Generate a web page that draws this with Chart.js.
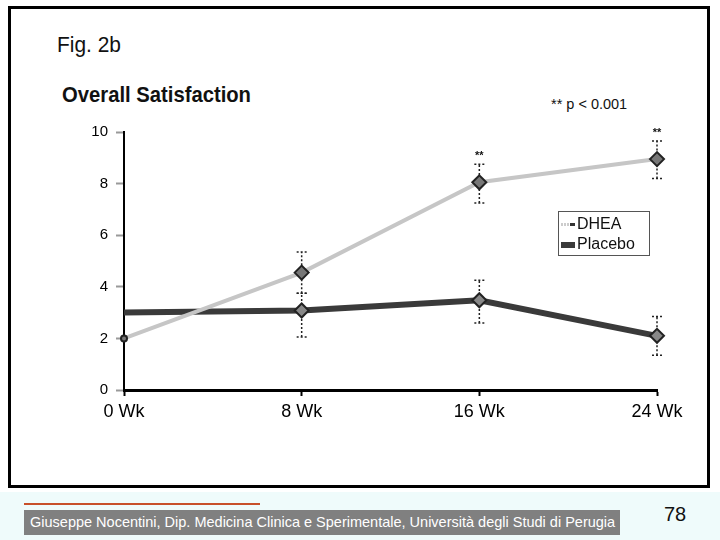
<!DOCTYPE html>
<html lang="en">
<head>
    <meta charset="UTF-8">
    <title>Fig. 2b - Overall Satisfaction</title>
    <script src="https://cdn.jsdelivr.net/npm/chart.js"></script>
    <style>
        html, body { margin: 0; padding: 0; }
        body { width: 720px; height: 540px; position: relative; overflow: hidden; background: #fff; font-family: "Liberation Sans", Arial, sans-serif; }
        .frame { position: absolute; left: 8px; top: 6px; width: 696px; height: 476px; border: 3px solid #000; }
        .fig { position: absolute; left: 57px; top: 32px; font-size: 22px; color: #111; transform: scaleX(0.95); transform-origin: left; }
        .title { position: absolute; left: 62px; top: 82px; font-size: 22px; font-weight: bold; color: #111; transform: scaleX(0.92); transform-origin: left; }
        .pval { position: absolute; left: 551px; top: 96px; font-size: 14.5px; color: #111; }
        #wrap { position: absolute; left: 60px; top: 115px; width: 640px; height: 315px; }
        .legend { position: absolute; left: 558px; top: 211px; width: 90px; height: 43px; border: 1.5px solid #555; font-size: 16px; color: #111; }
        .legend div { position: absolute; left: 2px; height: 19px; line-height: 19px; }
        .legend span.m { display: inline-block; vertical-align: middle; margin-right: 2px; }
        .foot { position: absolute; left: 0; top: 492px; width: 720px; height: 48px; background: #effbfb; }
        .rule { position: absolute; left: 24px; top: 503px; width: 236px; height: 2px; background: #c8502a; }
        .bar { position: absolute; left: 24px; top: 510px; width: 596px; height: 25px; background: #808080; color: #fff; font-size: 14.5px; line-height: 25px; padding-left: 6px; box-sizing: border-box; white-space: nowrap; }
        .page { position: absolute; left: 664px; top: 503px; font-size: 20px; color: #111; }
    </style>
</head>
<body>
    <div class="frame"></div>
    <div class="fig">Fig. 2b</div>
    <div class="title">Overall Satisfaction</div>
    <div class="pval">** p &lt; 0.001</div>
    <div id="wrap"><canvas id="chart"></canvas></div>
    <div class="legend" id="legend"></div>
    <div class="foot"></div>
    <div class="rule"></div>
    <div class="bar">Giuseppe Nocentini, Dip. Medicina Clinica e Sperimentale, Università degli Studi di Perugia</div>
    <div class="page">78</div>

    <script>
        const weeks = ['0 Wk', '8 Wk', '16 Wk', '24 Wk'];
        const dhea = [2.0, 4.55, 8.05, 8.95];
        const dheaLow = [null, 3.75, 7.25, 8.2];
        const dheaHigh = [null, 5.35, 8.75, 9.65];
        const placebo = [3.0, 3.08, 3.48, 2.1];
        const placeboLow = [null, 2.05, 2.6, 1.35];
        const placeboHigh = [null, 3.75, 4.25, 2.85];
        const sigMarks = ['', '', '**', '**'];
        const yTicks = [0, 2, 4, 6, 8, 10];

        // error bars + significance stars, drawn through the chart's scales
        const errorBars = {
            id: 'errorBars',
            beforeDatasetsDraw(chart) {
                const ctx = chart.ctx;
                const x = chart.scales.x, y = chart.scales.y;
                const sets = [[dheaLow, dheaHigh], [placeboLow, placeboHigh]];
                ctx.save();
                ctx.strokeStyle = '#222';
                ctx.lineWidth = 1.5;
                ctx.setLineDash([2, 2]);
                sets.forEach(([lo, hi]) => {
                    lo.forEach((v, i) => {
                        if (v === null) return;
                        const px = x.getPixelForValue(i);
                        const y1 = y.getPixelForValue(v), y2 = y.getPixelForValue(hi[i]);
                        ctx.beginPath();
                        ctx.moveTo(px, y1); ctx.lineTo(px, y2);
                        ctx.moveTo(px - 5, y1); ctx.lineTo(px + 5, y1);
                        ctx.moveTo(px - 5, y2); ctx.lineTo(px + 5, y2);
                        ctx.stroke();
                    });
                });
                ctx.setLineDash([]);
                ctx.fillStyle = '#111';
                ctx.font = 'bold 11px "Liberation Sans", Arial';
                ctx.textAlign = 'center';
                sigMarks.forEach((s, i) => {
                    if (!s) return;
                    ctx.fillText(s, x.getPixelForValue(i), y.getPixelForValue(dheaHigh[i]) - 5);
                });
                ctx.restore();
            }
        };

        const ctx = document.getElementById('chart').getContext('2d');
        const chart = new Chart(ctx, {
            type: 'line',
            data: {
                labels: weeks,
                datasets: [
                    {
                        label: 'DHEA',
                        data: dhea,
                        borderColor: '#c6c6c6',
                        borderWidth: 4,
                        pointStyle: c => c.dataIndex === 0 ? 'circle' : 'rectRot',
                        pointRadius: c => c.dataIndex === 0 ? 3 : 7,
                        pointBackgroundColor: '#777',
                        pointBorderColor: '#222',
                        pointBorderWidth: 2,
                        tension: 0
                    },
                    {
                        label: 'Placebo',
                        data: placebo,
                        borderColor: '#3a3a3a',
                        borderWidth: 6,
                        pointStyle: 'rectRot',
                        pointRadius: c => c.dataIndex === 0 ? 0 : 7,
                        pointBackgroundColor: '#888',
                        pointBorderColor: '#222',
                        pointBorderWidth: 2,
                        tension: 0
                    }
                ]
            },
            options: {
                responsive: true,
                maintainAspectRatio: false,
                animation: false,
                layout: { padding: { top: 15, right: 43 } },
                plugins: { legend: { display: false }, tooltip: { enabled: false } },
                scales: {
                    x: {
                        offset: false,
                        afterFit: s => { s.height = 40; },
                        grid: { drawOnChartArea: false, tickLength: 6, tickColor: '#000', tickWidth: 2 },
                        border: { color: '#000', width: 3 },
                        ticks: { color: '#000', font: { size: 18, family: '"Liberation Sans", Arial' }, padding: 5, maxRotation: 0 }
                    },
                    y: {
                        min: 0, max: 10,
                        afterFit: s => { s.width = 64; },
                        afterBuildTicks: s => { s.ticks = yTicks.map(v => ({ value: v })); },
                        grid: { drawOnChartArea: false, tickLength: 8, tickColor: '#999', tickWidth: 2 },
                        border: { color: '#000', width: 2 },
                        ticks: { color: '#000', font: { size: 15, family: '"Liberation Sans", Arial' }, padding: 8 }
                    }
                }
            },
            plugins: [errorBars]
        });

        // legend box built from the datasets
        const legend = document.getElementById('legend');
        chart.data.datasets.forEach((d, i) => {
            const row = document.createElement('div');
            row.style.top = (2 + i * 20) + 'px';
            const m = document.createElement('span');
            m.className = 'm';
            m.style.width = '14px';
            m.style.height = i === 0 ? '3px' : '6px';
            m.style.background = i === 0 ? 'repeating-linear-gradient(90deg, #ccc 0 2px, #fff 2px 3px)' : d.borderColor;
            if (i === 0) m.style.boxShadow = 'inset -6px 0 0 -1px #333';
            row.appendChild(m);
            row.appendChild(document.createTextNode(d.label));
            legend.appendChild(row);
        });
    </script>
</body>
</html>
